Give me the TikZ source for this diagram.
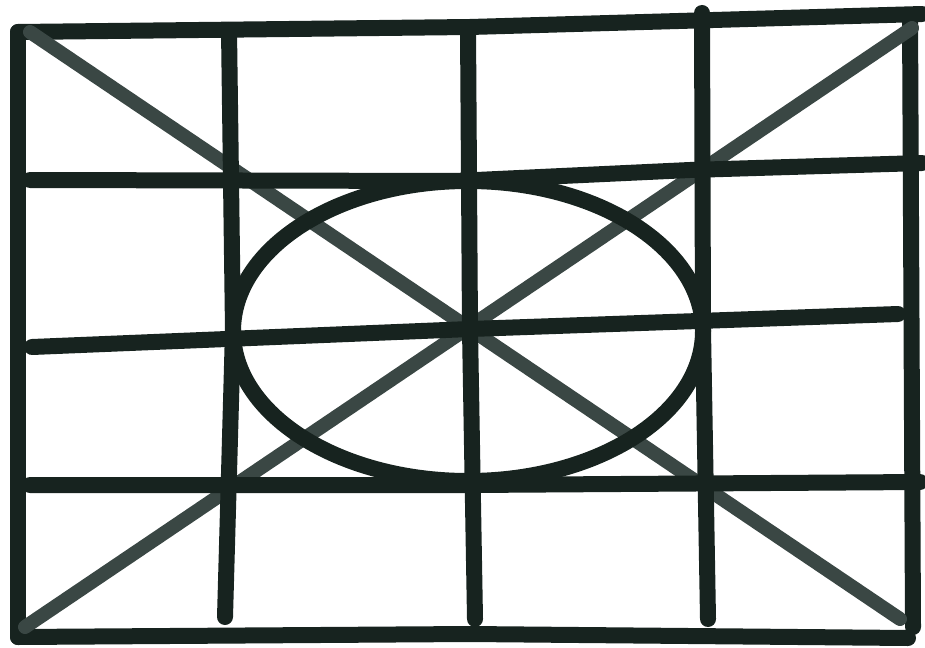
\documentclass[tikz,border=0pt]{standalone}
\definecolor{ink}{HTML}{17231F}
\definecolor{inkdiag}{HTML}{3A4744}
\tikzset{
  pencil/.style={draw=ink, line width=16pt, line cap=round, line join=round},
  pencildiag/.style={draw=inkdiag, line width=14pt, line cap=round},
}
\begin{document}
\begin{tikzpicture}[x=1pt,y=-1pt]
\useasboundingbox (0,0) rectangle (925,647);
% outer frame
\draw[pencil] (18,32) -- (470,27) -- (922,14);
\draw[pencil] (18,32) -- (18,637);
\draw[pencil] (18,637) -- (470,634) -- (908,638);
\draw[pencil] (910,16) -- (913,627);
% diagonals
\draw[pencildiag] (30,32) -- (900,619);
\draw[pencildiag] (25,627) -- (912,28);
% ellipse
\draw[pencil] (468,331) ellipse [x radius=235, y radius=150];
% vertical lines
\draw[pencil] (229,30) -- (233,330) -- (225,617);
\draw[pencil] (468,28) -- (470,330) -- (475,619);
\draw[pencil] (702,13) -- (703,330) -- (708,619);
% horizontal lines
\draw[pencil] (30,180) -- (455,181) -- (690,170) -- (922,163);
\draw[pencil] (32,347) -- (470,329) -- (898,314);
\draw[pencil] (30,485) -- (470,485) -- (920,482);
\end{tikzpicture}
\end{document}
